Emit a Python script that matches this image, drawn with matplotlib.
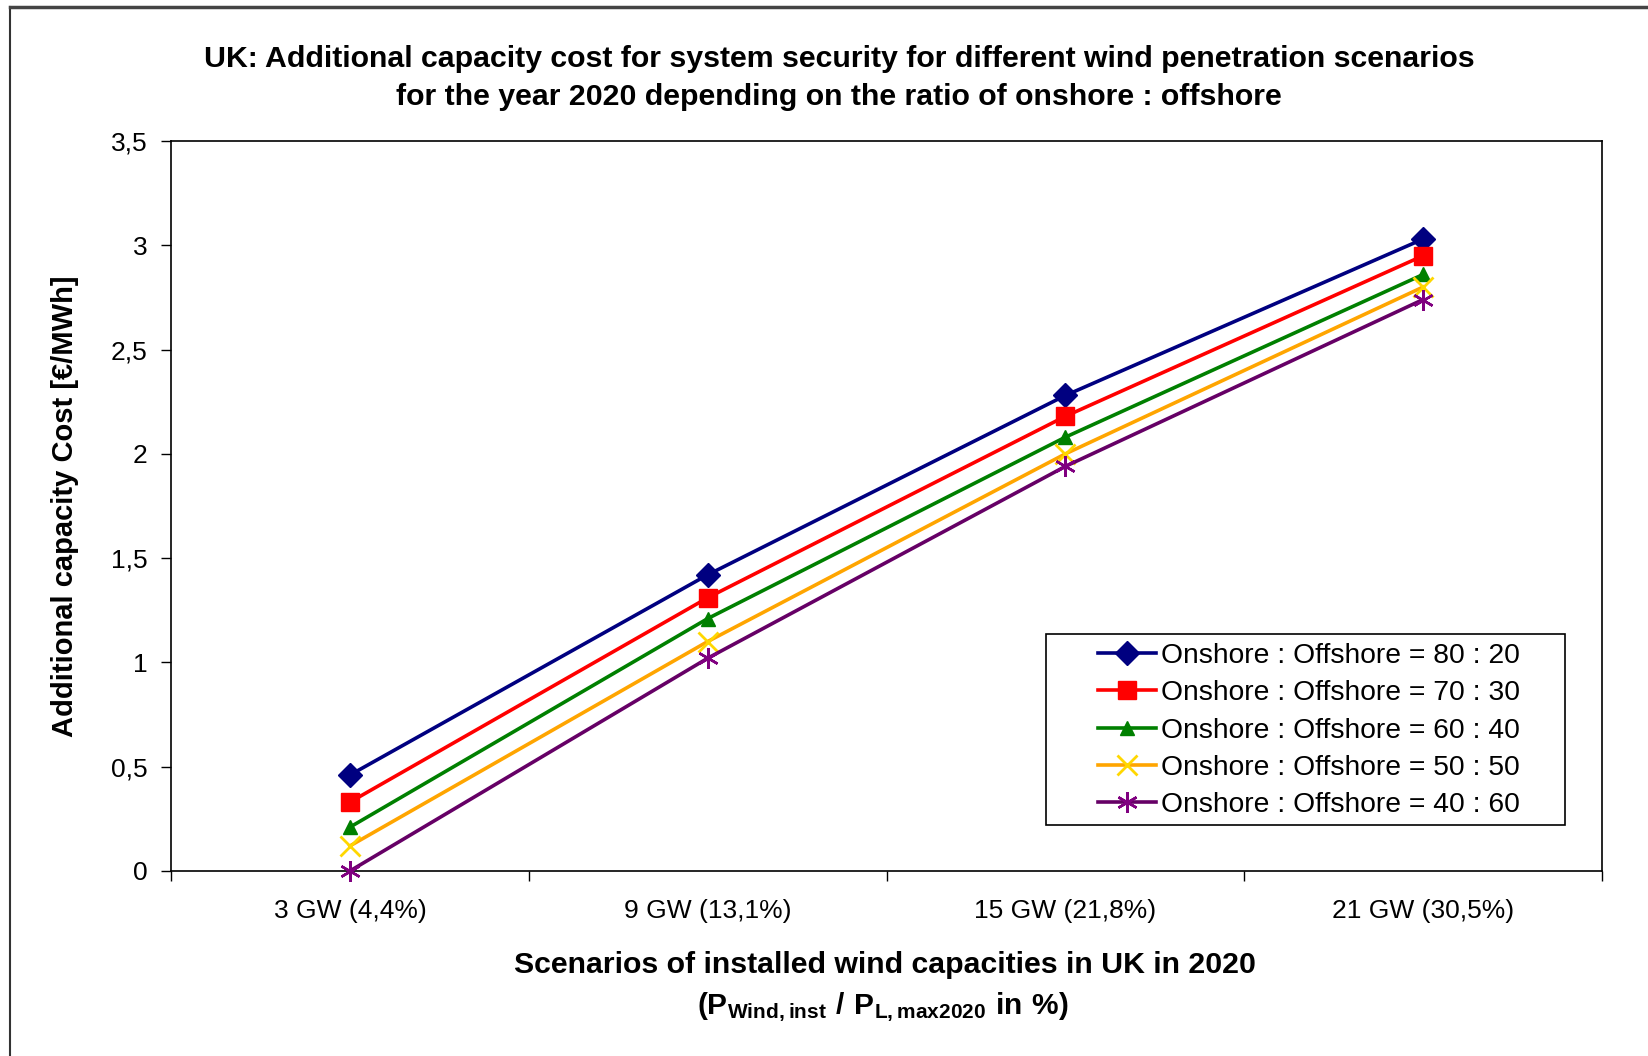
import matplotlib
matplotlib.use("Agg")
import matplotlib.pyplot as plt
from matplotlib.lines import Line2D
from matplotlib.patches import Rectangle

plt.rcParams['font.family'] = ['Liberation Sans', 'DejaVu Sans']
plt.rcParams['mathtext.fontset'] = 'custom'
plt.rcParams['mathtext.rm'] = 'Liberation Sans'
plt.rcParams['mathtext.bf'] = 'Liberation Sans:bold'

categories = ["3 GW (4,4%)", "9 GW (13,1%)", "15 GW (21,8%)", "21 GW (30,5%)"]
labels = ["Onshore : Offshore = 80 : 20",
          "Onshore : Offshore = 70 : 30",
          "Onshore : Offshore = 60 : 40",
          "Onshore : Offshore = 50 : 50",
          "Onshore : Offshore = 40 : 60"]
s80_20 = [0.46, 1.42, 2.28, 3.03]
s70_30 = [0.33, 1.31, 2.18, 2.95]
s60_40 = [0.21, 1.21, 2.08, 2.86]
s50_50 = [0.12, 1.10, 2.00, 2.80]
s40_60 = [0.00, 1.02, 1.94, 2.74]
yticks = [0, 0.5, 1, 1.5, 2, 2.5, 3, 3.5]
yticklabels = ["0", "0,5", "1", "1,5", "2", "2,5", "3", "3,5"]

series = [s80_20, s70_30, s60_40, s50_50, s40_60]
styles = [
    dict(color='#000080', marker='D', ms=12, mfc='#000080', mec='#000080'),
    dict(color='#FF0000', marker='s', ms=13, mfc='#FF0000', mec='#FF0000'),
    dict(color='#008000', marker='^', ms=10, mfc='#008000', mec='#008000'),
    dict(color='#FFA500', marker='x', ms=14, mfc='none', mec='#FFD700', mew=2),
    dict(color='#660066', marker=(6, 2, 0), ms=15, mfc='none', mec='#800080', mew=1.8),
]

W, H = 1648, 1056
fig = plt.figure(figsize=(W/100, H/100), dpi=100)
ax = fig.add_axes([171/W, 1-871/H, (1602-171)/W, (871-141)/H])

x = list(range(len(categories)))
for vals, lab, st in zip(series, labels, styles):
    ax.plot(x, vals, lw=2.6, label=lab, **st, clip_on=False, zorder=3)

ax.set_xlim(-0.5, len(categories) - 0.5)
ax.set_ylim(0, 3.5)
ax.set_yticks(yticks)
ax.set_yticklabels(yticklabels, fontsize=19)
ax.set_xticks([i + 0.5 for i in range(-1, len(categories))])
ax.set_xticklabels([])
ax.set_xticks(x, minor=True)
ax.set_xticklabels(categories, minor=True, fontsize=19)
ax.tick_params(axis='x', which='minor', length=0, pad=20)
ax.tick_params(axis='x', which='major', direction='out', length=7, width=1)
ax.tick_params(axis='y', direction='out', length=7, width=1, pad=10)
for sp in ax.spines.values():
    sp.set_linewidth(1.2)
    sp.set_color('black')

ax.set_ylabel("Additional capacity Cost [€/MWh]", fontsize=21, fontweight='bold')
ax.yaxis.set_label_coords(-0.064, 0.5)

fig.text(0.509, 1-59/H, "UK: Additional capacity cost for system security for different wind penetration scenarios",
         ha='center', va='center', fontsize=21.8, fontweight='bold')
fig.text(0.509, 1-97/H, "for the year 2020 depending on the ratio of onshore : offshore",
         ha='center', va='center', fontsize=21.8, fontweight='bold')

fig.text(0.537, 1-965/H, "Scenarios of installed wind capacities in UK in 2020",
         ha='center', va='center', fontsize=21.8, fontweight='bold')
fig.text(0.536, 1-1007/H, r"$\mathbf{(P_{Wind,inst}\ /\ P_{L,max2020}\ in\ \%)}$",
         ha='center', va='center', fontsize=21.5)

# legend frame drawn separately
fig.add_artist(Rectangle((1046/W, 1-825/H), (1565-1046)/W, (825-634)/H,
                         transform=fig.transFigure, facecolor='white', edgecolor='black',
                         lw=1.2, zorder=4))
leg = fig.legend(*ax.get_legend_handles_labels(), loc='upper left',
                 bbox_to_anchor=(1098/W, 1-643/H), bbox_transform=fig.transFigure,
                 fontsize=20.3, frameon=False, handlelength=2.05, handletextpad=0.2,
                 labelspacing=0.40, borderpad=0, borderaxespad=0, numpoints=1)
leg.set_zorder(5)

# outer chart border (left and top visible)
fig.add_artist(Line2D([10/W, 10/W], [0, 1-7/H], color='#333333', lw=1.5, transform=fig.transFigure))
fig.add_artist(Line2D([10/W, 1], [1-7/H, 1-7/H], color='#444444', lw=2.5, transform=fig.transFigure))

fig.savefig("out.png", dpi=100)
